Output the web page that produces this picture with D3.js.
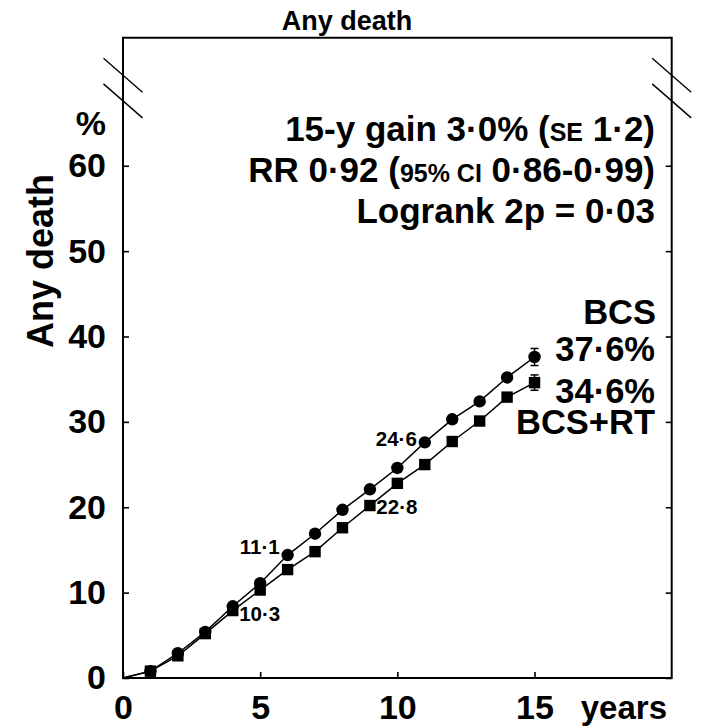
<!DOCTYPE html>
<html>
<head>
<meta charset="utf-8">
<script src="https://cdn.jsdelivr.net/npm/d3@7"></script>
<style>
  body { margin: 0; background: #fff; }
  text { font-family: "Liberation Sans", Arial, Helvetica, sans-serif; font-weight: bold; fill: #000; }
</style>
</head>
<body>
<div id="chart"></div>
<script>
// data (cumulative % any death)
const years = [0, 1, 2, 3, 4, 5, 6, 7, 8, 9, 10, 11, 12, 13, 14, 15];
const bcs   = [0, 0.8, 2.9, 5.4, 8.4, 11.1, 14.4, 16.9, 19.7, 22.1, 24.6, 27.6, 30.3, 32.4, 35.2, 37.6];
const bcsRt = [0, 0.8, 2.6, 5.2, 7.9, 10.3, 12.7, 14.8, 17.6, 20.2, 22.8, 25.0, 27.7, 30.1, 32.9, 34.6];
const seEnd = [1.0, 0.9]; // error bar at 15 years: BCS, BCS+RT
const xTicks = [0, 5, 10, 15];
const yTicks = [0, 10, 20, 30, 40, 50, 60];
const pointLabels = [ // [series, year, text]
  ["bcs", 5, "11\u00b71"], ["bcs", 10, "24\u00b76"],
  ["rt", 5, "10\u00b73"], ["rt", 10, "22\u00b78"]
];

const W = 705, H = 728;
const x = d3.scaleLinear().domain([0, 20]).range([123, 671.7]);
const y = d3.scaleLinear().domain([0, 75]).range([678, 37.7]);

const svg = d3.select("#chart").append("svg").attr("width", W).attr("height", H);

// frame
svg.append("path")
   .attr("d", `M${x(0)},${y(0)}V${y(75)}H${x(20)}V${y(0)}Z`)
   .attr("fill", "none").attr("stroke", "#000").attr("stroke-width", 2);

// axes, ticks pointing inward
const gy = svg.append("g").attr("transform", `translate(${x(0)},0)`)
   .call(d3.axisLeft(y).tickValues(yTicks).tickSize(-6).tickPadding(17));
const gyr = svg.append("g").attr("transform", `translate(${x(20)},0)`)
   .call(d3.axisRight(y).tickValues(yTicks).tickSize(-6).tickFormat(""));
const gx = svg.append("g").attr("transform", `translate(0,${y(0)})`)
   .call(d3.axisBottom(x).tickValues(xTicks).tickSize(-6).tickPadding(17));
[gy, gyr, gx].forEach(g => {
  g.select(".domain").remove();
  g.selectAll("line").attr("stroke-width", 1.6);
  g.selectAll("text").attr("font-size", 34).attr("font-family", null);
});

// axis breaks
[70.6, 67.6].forEach(v => {
  [0, 20].forEach(t => {
    svg.append("line")
       .attr("x1", x(t) - 19.5).attr("y1", y(v) - 17)
       .attr("x2", x(t) + 19.5).attr("y2", y(v) + 17)
       .attr("stroke", "#000").attr("stroke-width", 1.4);
  });
});

// titles
svg.append("text").attr("x", 347).attr("y", 30).attr("text-anchor", "middle")
   .attr("font-size", 27).text("Any death");
svg.append("text").attr("transform", "translate(53,261) rotate(-90)")
   .attr("text-anchor", "middle").attr("font-size", 36).text("Any death");
svg.append("text").attr("x", 106).attr("y", 135).attr("text-anchor", "end")
   .attr("font-size", 34).text("%");
svg.append("text").attr("x", 667).attr("y", 719).attr("text-anchor", "end")
   .attr("font-size", 33).text("years");

// stats
const st = svg.append("g").attr("text-anchor", "end").attr("font-size", 35);
let t1 = st.append("text").attr("x", 655).attr("y", 141);
t1.append("tspan").text("15-y gain 3\u00b70% (");
t1.append("tspan").attr("font-size", 25).text("SE");
t1.append("tspan").text(" 1\u00b72)");
let t2 = st.append("text").attr("x", 655).attr("y", 182);
t2.append("tspan").text("RR 0\u00b792 (");
t2.append("tspan").attr("font-size", 25).text("95% CI");
t2.append("tspan").text(" 0\u00b786-0\u00b799)");
st.append("text").attr("x", 655).attr("y", 223).text("Logrank 2p = 0\u00b703");

// end labels
const el = svg.append("g").attr("text-anchor", "end").attr("font-size", 34.5);
el.append("text").attr("x", 656).attr("y", 324).text("BCS");
el.append("text").attr("x", 655).attr("y", 361).text("37\u00b76%");
el.append("text").attr("x", 655).attr("y", 403).text("34\u00b76%");
el.append("text").attr("x", 655).attr("y", 434).text("BCS+RT");

// curves
const line = d3.line().x((d, i) => x(years[i])).y(d => y(d));
[bcs, bcsRt].forEach(s => {
  svg.append("path").datum(s).attr("d", line)
     .attr("fill", "none").attr("stroke", "#000").attr("stroke-width", 1.5);
});

// error bars at 15 years
[bcs, bcsRt].forEach((s, k) => {
  const v = s[s.length - 1], xe = x(years[years.length - 1]);
  const g = svg.append("g").attr("stroke", "#000").attr("stroke-width", 1.5);
  g.append("line").attr("x1", xe).attr("x2", xe).attr("y1", y(v - seEnd[k])).attr("y2", y(v + seEnd[k]));
  [v - seEnd[k], v + seEnd[k]].forEach(e => {
    g.append("line").attr("x1", xe - 4).attr("x2", xe + 4).attr("y1", y(e)).attr("y2", y(e));
  });
});

// markers
svg.selectAll("circle.bcs").data(bcs.slice(1)).enter().append("circle")
   .attr("cx", (d, i) => x(years[i + 1])).attr("cy", d => y(d)).attr("r", 6.2).attr("fill", "#000");
svg.selectAll("rect.rt").data(bcsRt.slice(1)).enter().append("rect")
   .attr("x", (d, i) => x(years[i + 1]) - 5.7).attr("y", d => y(d) - 5.7)
   .attr("width", 11.4).attr("height", 11.4).attr("fill", "#000");

// point labels
pointLabels.forEach(([s, yr, txt]) => {
  const v = (s === "bcs" ? bcs : bcsRt)[years.indexOf(yr)];
  const above = s === "bcs";
  svg.append("text")
     .attr("x", x(yr) + (above ? 19.5 : -21))
     .attr("y", y(v) + (above ? (yr === 5 ? -29 : -22) : 31))
     .attr("text-anchor", above ? "end" : "start")
     .attr("font-size", 20.5).text(txt);
});
</script>
</body>
</html>
